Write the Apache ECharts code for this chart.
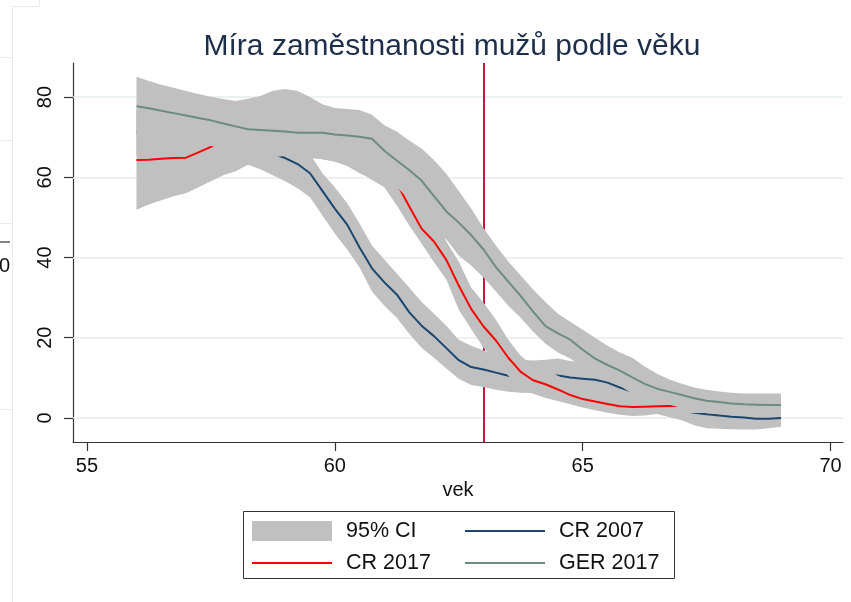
<!DOCTYPE html>
<html>
<head>
<meta charset="utf-8">
<script src="https://cdn.jsdelivr.net/npm/echarts@6.0.0/dist/echarts.min.js"></script>
<style>
html, body { margin: 0; padding: 0; background: #fff; }
#chart { width: 851px; height: 602px; }
</style>
</head>
<body>
<div id="chart"></div>
<script>
// vek (step 0.25)
var ages = [56, 56.25, 56.5, 56.75, 57, 57.25, 57.5, 57.75, 58, 58.25, 58.5, 58.75,
	59, 59.25, 59.5, 59.75, 60, 60.25, 60.5, 60.75, 61, 61.25, 61.5, 61.75,
	62, 62.25, 62.5, 62.75, 63, 63.25, 63.5, 63.75, 64, 64.25, 64.5, 64.75,
	65, 65.25, 65.5, 65.75, 66, 66.25, 66.5, 66.75, 67, 67.25, 67.5, 67.75,
	68, 68.25, 68.5, 68.75, 69];

var cr2007 = [71.4, 71.0, 70.6, 70.0, 69.5, 69.0, 68.5, 68.0, 67.5, 67.0, 66.4, 65.8,
	64.8, 63.3, 61.0, 56.6, 52.2, 48.2, 42.5, 37.3, 33.8, 30.8, 26.4, 23.0,
	20.4, 17.4, 14.4, 12.7, 12.1, 11.3, 10.5, 10.3, 10.2, 10.4, 10.6, 10.1,
	9.8, 9.5, 8.8, 7.6, 6.5, 5.3, 4.0, 2.8, 1.9, 1.3, 0.9, 0.6,
	0.3, 0.1, -0.2, -0.2, 0.0];
var cr2007Lo = [65.5, 65.2, 64.8, 64.4, 64.0, 63.7, 63.5, 63.3, 63.2, 63.1, 62.0, 60.5,
	59.0, 57.3, 55.0, 50.5, 46.0, 42.0, 37.5, 31.5, 28.0, 25.0, 21.0, 17.5,
	15.0, 12.3, 9.8, 8.2, 7.7, 7.0, 6.5, 6.3, 6.2, 6.3, 6.5, 6.2,
	5.8, 5.4, 4.8, 3.5, 2.3, 1.6, 1.0, 0.2, -0.6, -1.8, -2.6, -2.7,
	-2.8, -2.9, -2.9, -2.6, -2.2];
var cr2007Hi = [77.0, 76.5, 76.0, 75.5, 75.0, 74.5, 74.0, 73.5, 73.0, 72.0, 71.0, 70.0,
	69.0, 67.5, 65.8, 61.0, 57.5, 53.5, 48.5, 43.0, 39.5, 36.0, 32.5, 29.0,
	26.0, 23.0, 19.5, 18.0, 16.8, 15.8, 15.0, 14.5, 14.3, 14.5, 14.8, 14.2,
	13.8, 13.5, 12.8, 11.6, 10.5, 9.0, 7.8, 6.5, 5.5, 4.8, 4.3, 4.0,
	3.7, 3.5, 3.4, 3.4, 3.4];

var cr2017 = [64.3, 64.4, 64.6, 64.8, 64.9, 66.2, 67.6, 69.0, 70.0, 70.8, 71.3, 71.5,
	71.5, 71.2, 70.9, 70.5, 70.0, 69.2, 68.0, 66.3, 63.5, 58.5, 52.8, 47.2,
	44.0, 39.4, 33.0, 27.2, 22.8, 19.3, 15.0, 11.5, 9.4, 8.4, 7.1, 5.7,
	4.7, 4.1, 3.5, 2.9, 2.7, 2.8, 2.9, 3.0, 3.0, 2.9, 2.8, 2.6,
	2.5, 2.4, 2.3, 2.1, 2.0];
var cr2017Lo = [51.9, 53.2, 54.3, 55.3, 56.0, 57.5, 59.0, 60.5, 61.5, 63.1, 64.3, 65.0,
	65.3, 65.2, 65.0, 64.5, 64.0, 63.0, 61.5, 59.3, 57.5, 53.0, 48.0, 43.5,
	38.8, 34.5, 27.0, 22.2, 17.5, 14.0, 10.5, 7.5, 6.0, 5.0, 4.2, 3.4,
	2.6, 1.9, 1.3, 0.8, 0.5, 0.6, 1.0, 1.1, 1.2, 1.2, 1.2, 1.0,
	0.8, 0.6, 0.5, 0.4, 0.3];
var cr2017Hi = [76.7, 76.0, 75.5, 75.0, 74.0, 75.0, 76.4, 77.5, 78.5, 78.5, 78.3, 78.0,
	77.7, 77.2, 76.8, 76.5, 76.0, 75.4, 74.5, 73.3, 69.5, 64.0, 59.0, 53.0,
	50.0, 44.0, 39.0, 32.5, 28.7, 24.5, 19.5, 15.5, 13.0, 11.8, 10.5, 9.0,
	8.0, 7.2, 6.3, 5.2, 5.0, 5.2, 5.2, 5.2, 5.0, 4.7, 4.5, 4.3,
	4.2, 4.1, 4.0, 3.9, 3.8];

var ger2017 = [77.7, 77.2, 76.6, 76.0, 75.4, 74.8, 74.2, 73.4, 72.7, 72.0, 71.8, 71.6,
	71.4, 71.1, 71.1, 71.1, 70.7, 70.4, 70.1, 69.6, 66.6, 64.2, 61.8, 59.2,
	55.3, 51.5, 48.7, 45.6, 42.0, 37.6, 34.0, 30.4, 26.5, 22.9, 21.1, 19.5,
	17.0, 14.8, 13.2, 11.8, 10.1, 8.5, 7.3, 6.5, 5.7, 4.9, 4.3, 4.0,
	3.6, 3.4, 3.3, 3.2, 3.2];
var ger2017Lo = [70.5, 70.0, 69.5, 69.0, 68.5, 68.2, 67.8, 67.2, 66.6, 66.0, 65.8, 65.5,
	65.3, 65.0, 64.8, 64.5, 63.9, 62.8, 61.0, 59.5, 58.2, 57.5, 54.5, 50.5,
	47.0, 44.5, 40.5, 38.0, 35.0, 31.5, 28.0, 25.0, 21.5, 18.5, 16.3, 14.8,
	12.5, 10.5, 9.2, 8.0, 6.0, 5.0, 4.0, 3.3, 2.5, 1.9, 1.4, 1.1,
	0.9, 0.7, 0.6, 0.5, 0.4];
var ger2017Hi = [85.1, 84.0, 83.1, 82.3, 81.5, 80.8, 80.1, 79.5, 79.0, 79.6, 80.3, 81.6,
	82.0, 81.5, 80.0, 78.2, 77.3, 77.0, 76.8, 75.6, 73.0, 71.4, 69.2, 67.2,
	64.3, 60.9, 56.6, 52.2, 47.3, 43.0, 39.0, 35.5, 32.0, 28.9, 26.0, 24.0,
	22.0, 20.0, 18.0, 16.3, 15.0, 12.8, 11.0, 9.6, 8.5, 7.6, 7.0, 6.6,
	6.3, 6.1, 6.1, 6.1, 6.1];

var xTicks = [55, 60, 65, 70];
var yTicks = [0, 20, 40, 60, 80];
var retirementAge = 63;

var font = "'Liberation Sans', Arial, sans-serif";
var bandColor = '#c0c0c0';
var lineIcon = 'path://M0,0H80V2H0Z';

function pairs(vals) {
	return ages.map(function(a, i) { return [a, vals[i]]; });
}

// pas CI jako jeden polygon
function band(lo, hi, z) {
	return {
		name : '95% CI',
		type : 'custom',
		z : z,
		silent : true,
		itemStyle : { color : bandColor },
		encode : { x : 0, y : [1, 2] },
		data : ages.map(function(a, i) { return [a, lo[i], hi[i]]; }),
		renderItem : function(params, api) {
			if (params.dataIndex !== 0) return;
			var pts = [];
			for (var i = 0; i < ages.length; i++) pts.push(api.coord([ages[i], hi[i]]));
			for (var j = ages.length - 1; j >= 0; j--) pts.push(api.coord([ages[j], lo[j]]));
			return { type : 'polygon', shape : { points : pts }, style : { fill : bandColor } };
		}
	};
}

function line(name, vals, color, z) {
	return {
		name : name,
		type : 'line',
		z : z,
		symbol : 'none',
		silent : true,
		lineStyle : { color : color, width : 2 },
		itemStyle : { color : color },
		data : pairs(vals)
	};
}

var refLines = yTicks.map(function(v) {
	return { yAxis : v, lineStyle : { color : '#e6eef1', width : 1.5, type : 'solid' } };
});
refLines.push({ xAxis : retirementAge, lineStyle : { color : '#c8163e', width : 2, type : 'solid' } });

var s2007 = line('CR 2007', cr2007, '#1a476f', 3);
s2007.markLine = {
	z : 1,
	silent : true,
	symbol : ['none', 'none'],
	label : { show : false },
	animation : false,
	data : refLines
};

var legendCommon = {
	orient : 'vertical',
	top : 515,
	padding : 5,
	itemWidth : 80,
	itemHeight : 20,
	itemGap : 10,
	selectedMode : false,
	itemStyle : { borderWidth : 0 },
	textStyle : { fontSize : 21.5, color : '#111', fontFamily : font, padding : [0, 0, 0, 9] }
};

var option = {
	animation : false,
	textStyle : { fontFamily : font },
	title : {
		text : 'Míra zaměstnanosti mužů podle věku',
		left : 447,
		textAlign : 'center',
		top : 27,
		padding : 5,
		textStyle : { fontSize : 30, fontWeight : 'normal', color : '#1c2e4a', fontFamily : font }
	},
	grid : { left : 73, right : 8, top : 63, bottom : 160 },
	xAxis : {
		type : 'value',
		min : 54.72,
		max : 70.25,
		name : 'vek',
		nameLocation : 'middle',
		nameGap : 38,
		nameTextStyle : { fontSize : 20, color : '#111' },
		axisLine : { show : true, onZero : false, lineStyle : { color : '#333', width : 1.2 } },
		axisTick : { show : true, length : 9, customValues : xTicks, lineStyle : { color : '#333', width : 1.2 } },
		axisLabel : { customValues : xTicks, fontSize : 20, color : '#111', margin : 14 },
		splitLine : { show : false }
	},
	yAxis : {
		type : 'value',
		min : -6,
		max : 88.5,
		axisLine : { show : true, onZero : false, lineStyle : { color : '#333', width : 1.2 } },
		axisTick : { show : true, length : 9, customValues : yTicks, lineStyle : { color : '#333', width : 1.2 } },
		axisLabel : { customValues : yTicks, rotate : 90, fontSize : 20, color : '#111', margin : 18 },
		splitLine : { show : false }
	},
	legend : [
		Object.assign({}, legendCommon, { left : 247, data : [{ name : '95% CI', icon : 'rect' }, { name : 'CR 2017', icon : lineIcon }] }),
		Object.assign({}, legendCommon, { left : 460, data : [{ name : 'CR 2007', icon : lineIcon }, { name : 'GER 2017', icon : lineIcon }] })
	],
	graphic : [
		{ type : 'rect', shape : { x : 243.5, y : 511.5, width : 431, height : 67 }, style : { fill : 'none', stroke : '#333', lineWidth : 1 } },
		{ type : 'line', shape : { x1 : 12.5, y1 : 6, x2 : 12.5, y2 : 602 }, style : { stroke : '#e4ecef', lineWidth : 1 } },
		{ type : 'line', shape : { x1 : 12, y1 : 6.5, x2 : 40, y2 : 6.5 }, style : { stroke : '#e4ecef', lineWidth : 1 } },
		{ type : 'line', shape : { x1 : 39.5, y1 : 0, x2 : 39.5, y2 : 6 }, style : { stroke : '#e4ecef', lineWidth : 1 } },
		{ type : 'line', shape : { x1 : 0, y1 : 57.5, x2 : 12, y2 : 57.5 }, style : { stroke : '#e4ecef', lineWidth : 1 } },
		{ type : 'line', shape : { x1 : 0, y1 : 140.5, x2 : 12, y2 : 140.5 }, style : { stroke : '#e4ecef', lineWidth : 1 } },
		{ type : 'line', shape : { x1 : 0, y1 : 223.5, x2 : 12, y2 : 223.5 }, style : { stroke : '#e4ecef', lineWidth : 1 } },
		{ type : 'line', shape : { x1 : 0, y1 : 409.5, x2 : 12, y2 : 409.5 }, style : { stroke : '#e4ecef', lineWidth : 1 } },
		{ type : 'line', shape : { x1 : 0, y1 : 242, x2 : 10, y2 : 242 }, style : { stroke : '#333', lineWidth : 1.2 } },
		{ type : 'text', style : { text : '0', x : -1, y : 266, fontSize : 20, fontFamily : font, fill : '#111', verticalAlign : 'middle' } }
	],
	series : [
		band(cr2007Lo, cr2007Hi, 2),
		s2007,
		band(cr2017Lo, cr2017Hi, 4),
		line('CR 2017', cr2017, '#ff0000', 5),
		band(ger2017Lo, ger2017Hi, 6),
		line('GER 2017', ger2017, '#6d8c80', 7)
	]
};

var myChart = echarts.init(document.getElementById('chart'));
myChart.setOption(option);
</script>
</body>
</html>
